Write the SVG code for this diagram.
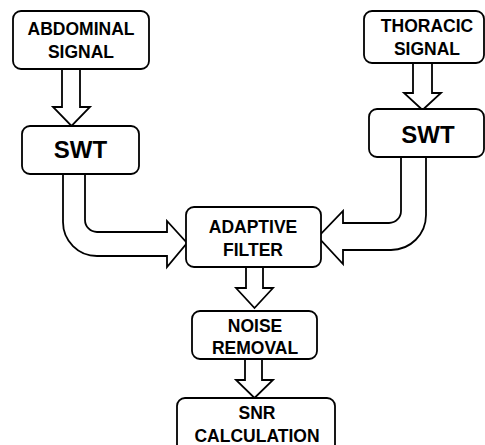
<svg xmlns="http://www.w3.org/2000/svg" width="485" height="445" viewBox="0 0 485 445">
<style>
.box{fill:#fff;stroke:#000;stroke-width:1.8}
.arr{fill:#fff;stroke:#000;stroke-width:1.8;stroke-linejoin:miter}
text{font-family:"Liberation Sans",Arial,sans-serif;font-weight:bold;fill:#000;text-anchor:middle}
.t{font-size:17.5px}
.big{font-size:24px}
</style>
<rect width="485" height="445" fill="#fff"/>
<g id="connectors">
<polygon class="arr" points="62,69 80,69 80,107 90,107 71.5,126 53,107 62,107"/>
<polygon class="arr" points="413,63 432,63 432,93 441,93 422.5,110 404,93 413,93"/>
<path class="arr" d="M63,174 L63,222 A34,34 0 0 0 97,256 L167,256 L167,267 L187,243 L167,221 L167,232 L97,232 A12,12 0 0 1 85,220 L85,174"/>
<path class="arr" d="M426,157 L426,215 A35,35 0 0 1 391,250 L343,250 L343,264 L318,237 L343,211 L343,223 L389,223 A12,12 0 0 0 401,211 L401,157"/>
<polygon class="arr" points="246,267 263,267 263,288 273,288 254.5,308 236,288 246,288"/>
<polygon class="arr" points="245,359 262,359 262,380 273,380 254.5,398 236,380 245,380"/>
</g>
<g id="abdominal">
<rect class="box" x="13" y="11" width="136" height="58" rx="8"/>
<text class="t" x="81" y="35">ABDOMINAL</text>
<text class="t" x="81" y="58">SIGNAL</text>
</g>
<g id="thoracic">
<rect class="box" x="364" y="11" width="120" height="52" rx="8"/>
<text class="t" x="427" y="32">THORACIC</text>
<text class="t" x="427" y="55">SIGNAL</text>
</g>
<g id="swt-left">
<rect class="box" x="22" y="126" width="117" height="48" rx="8"/>
<text class="big" x="80.5" y="158">SWT</text>
</g>
<g id="swt-right">
<rect class="box" x="369" y="109" width="115" height="48" rx="8"/>
<text class="big" x="428" y="143">SWT</text>
</g>
<g id="adaptive">
<rect class="box" x="186" y="207" width="135" height="60" rx="8"/>
<text class="t" x="253" y="233">ADAPTIVE</text>
<text class="t" x="253" y="256">FILTER</text>
</g>
<g id="noise">
<rect class="box" x="192" y="311" width="125" height="48" rx="8"/>
<text class="t" x="255" y="332">NOISE</text>
<text class="t" x="255" y="354">REMOVAL</text>
</g>
<g id="snr">
<rect class="box" x="177" y="398" width="158" height="60" rx="8"/>
<text class="t" x="257" y="419">SNR</text>
<text class="t" x="257" y="442">CALCULATION</text>
</g>
</svg>
